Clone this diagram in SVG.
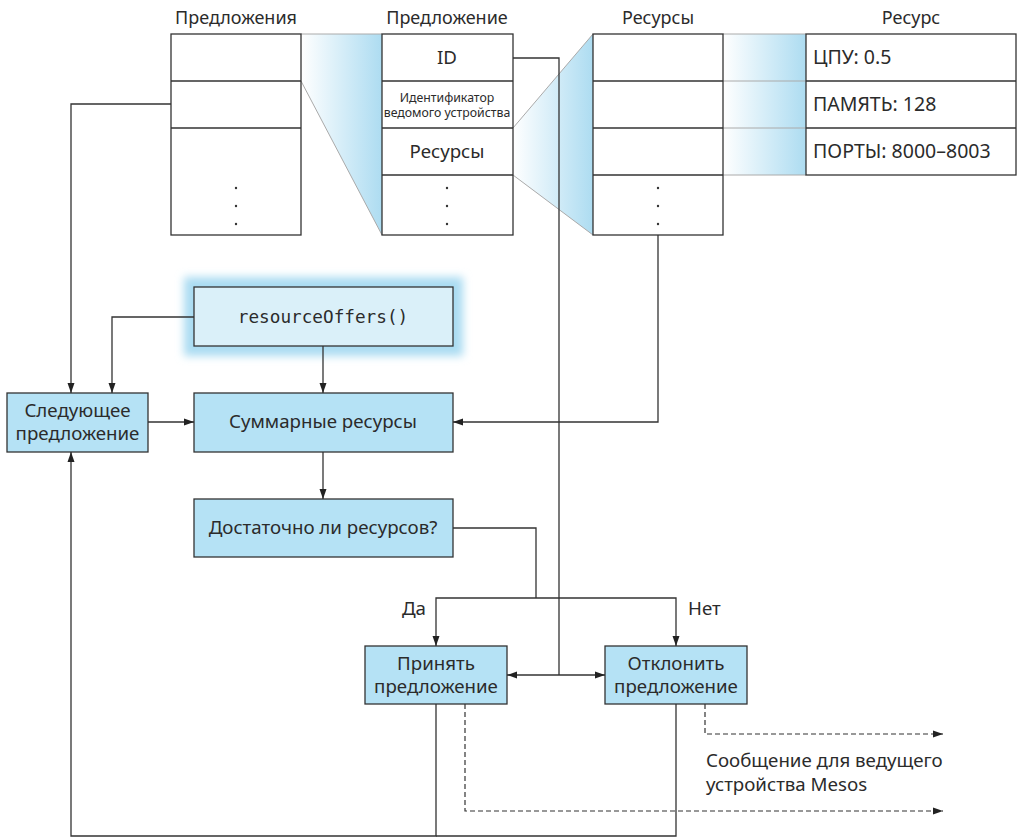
<svg xmlns="http://www.w3.org/2000/svg" width="1017" height="838" viewBox="0 0 1017 838">
<style>
text{font-family:"Noto Sans","Open Sans",sans-serif;fill:#2b2b2b;font-size:18.7px}
.c{text-anchor:middle}
.ttl{font-size:18px}
.val{font-size:19.5px}
.t{fill:#fff;stroke:#333;stroke-width:1.3}
.box{fill:#b5e2f5;stroke:#333;stroke-width:1.3}
.ln{fill:none;stroke:#333;stroke-width:1.3}
.gl{fill:none;stroke:#aaa;stroke-width:1}
.arr{fill:none;stroke:#333;stroke-width:1.3;marker-end:url(#ah)}
.dash{fill:none;stroke:#333;stroke-width:1.2;stroke-dasharray:5 3;marker-end:url(#ah)}
.dot{fill:#333}
.mono{font-family:"DejaVu Sans Mono","Liberation Mono",monospace;font-size:17.7px}
.sm{font-size:12.3px}
</style>
<defs>
<marker id="ah" markerUnits="userSpaceOnUse" markerWidth="10" markerHeight="8" refX="10" refY="4" orient="auto"><path d="M0,0.5 L10,4 L0,7.5 z" fill="#222"/></marker>
<linearGradient id="g1" gradientUnits="userSpaceOnUse" x1="301" y1="0" x2="382" y2="0"><stop offset="0" stop-color="#fff"/><stop offset="1" stop-color="#addcf1"/></linearGradient>
<linearGradient id="g2" gradientUnits="userSpaceOnUse" x1="513" y1="0" x2="593" y2="0"><stop offset="0" stop-color="#fff"/><stop offset="1" stop-color="#addcf1"/></linearGradient>
<linearGradient id="g3" gradientUnits="userSpaceOnUse" x1="723" y1="0" x2="806" y2="0"><stop offset="0" stop-color="#fff"/><stop offset="1" stop-color="#addcf1"/></linearGradient>
<filter id="blur" x="-20%" y="-40%" width="140%" height="180%"><feGaussianBlur stdDeviation="4"/></filter>
</defs>

<g id="fans">
<polygon points="301,34 382,34 382,235 301,81" fill="url(#g1)"/>
<path class="gl" d="M301,34 H382 M301,81 L382,235"/>
<polygon points="513,128 593,34 593,235 513,175" fill="url(#g2)"/>
<path class="gl" d="M513,128 L593,34 M513,175 L593,235"/>
<rect x="723" y="34" width="83" height="141" fill="url(#g3)"/>
<path class="gl" d="M723,34 H806 M723,81 H806 M723,128 H806 M723,175 H806"/>
</g>

<g id="offers-table">
<text class="c ttl" x="236" y="24">Предложения</text>
<rect class="t" x="171" y="34" width="130" height="201"/>
<path class="ln" d="M171,81 H301 M171,128 H301"/>
<circle class="dot" cx="236" cy="188" r="1.2"/><circle class="dot" cx="236" cy="206" r="1.2"/><circle class="dot" cx="236" cy="224" r="1.2"/>
</g>

<g id="offer-table">
<text class="c ttl" x="447" y="24">Предложение</text>
<rect class="t" x="382" y="34" width="131" height="201"/>
<path class="ln" d="M382,81 H513 M382,128 H513 M382,175 H513"/>
<text class="c" x="447" y="64">ID</text>
<text class="c sm" x="447" y="102">Идентификатор</text>
<text class="c sm" x="447" y="117">ведомого устройства</text>
<text class="c" x="447" y="158">Ресурсы</text>
<circle class="dot" cx="447" cy="188" r="1.2"/><circle class="dot" cx="447" cy="206" r="1.2"/><circle class="dot" cx="447" cy="224" r="1.2"/>
</g>

<g id="resources-table">
<text class="c ttl" x="658" y="24">Ресурсы</text>
<rect class="t" x="593" y="34" width="130" height="201"/>
<path class="ln" d="M593,81 H723 M593,128 H723 M593,175 H723"/>
<circle class="dot" cx="658" cy="188" r="1.2"/><circle class="dot" cx="658" cy="206" r="1.2"/><circle class="dot" cx="658" cy="224" r="1.2"/>
</g>

<g id="resource-table">
<text class="c ttl" x="911" y="24">Ресурс</text>
<rect class="t" x="806" y="34" width="210" height="141"/>
<path class="ln" d="M806,81 H1016 M806,128 H1016"/>
<text class="val" x="813" y="64">ЦПУ: 0.5</text>
<text class="val" x="813" y="111">ПАМЯТЬ: 128</text>
<text class="val" x="813" y="158">ПОРТЫ: 8000–8003</text>
</g>

<g id="resourceOffers">
<rect x="184" y="277" width="279" height="79" fill="#aadcf2" filter="url(#blur)"/>
<rect x="194" y="287" width="259" height="59" fill="#daf0f9" stroke="#333" stroke-width="1.3"/>
<text class="c mono" x="323" y="323">resourceOffers()</text>
</g>

<g id="next-offer">
<rect class="box" x="7" y="393" width="141" height="59"/>
<text class="c" x="77.5" y="417">Следующее</text>
<text class="c" x="77.5" y="440">предложение</text>
</g>

<g id="sum-resources">
<rect class="box" x="194" y="393" width="259" height="59"/>
<text class="c" x="323" y="428">Суммарные ресурсы</text>
</g>

<g id="enough">
<rect class="box" x="194" y="499" width="259" height="58"/>
<text class="c" x="323" y="534">Достаточно ли ресурсов?</text>
</g>

<g id="accept">
<rect class="box" x="365" y="646" width="142" height="58"/>
<text class="c" x="436" y="670">Принять</text>
<text class="c" x="436" y="693">предложение</text>
</g>

<g id="decline">
<rect class="box" x="605" y="646" width="142" height="58"/>
<text class="c" x="676" y="670">Отклонить</text>
<text class="c" x="676" y="693">предложение</text>
</g>

<g id="connectors">
<path class="arr" d="M171,104 H71 V393"/>
<path class="arr" d="M194,317 H112 V393"/>
<path class="arr" d="M323,346 V393"/>
<path class="arr" d="M148,422 H194"/>
<path class="arr" d="M658,235 V422 H453"/>
<path class="arr" d="M323,452 V499"/>
<path class="ln" d="M453,528 H536 V598"/>
<path class="arr" d="M536,598 H436 V646"/>
<path class="arr" d="M536,598 H676 V646"/>
<path class="ln" d="M513,58 H559 V675"/>
<path class="arr" d="M559,675 H507"/>
<path class="arr" d="M559,675 H605"/>
<path class="ln" d="M676,704 V836 H436"/>
<path class="arr" d="M436,704 V836 H71 V452"/>
<path class="dash" d="M465,704 V811 H943"/>
<path class="dash" d="M705,704 V734 H943"/>
</g>

<g id="labels">
<text x="402" y="615">Да</text>
<text x="688" y="615">Нет</text>
<text x="706" y="767">Сообщение для ведущего</text>
<text x="706" y="791">устройства Mesos</text>
</g>
</svg>
